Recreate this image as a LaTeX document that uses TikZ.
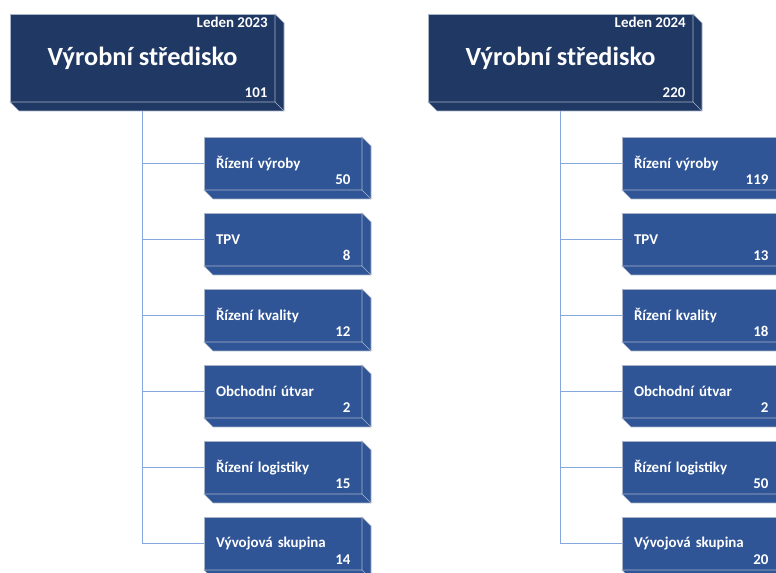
\documentclass[tikz,border=0pt]{standalone}
\usepackage{fontspec}
\setmainfont{Carlito}
\usetikzlibrary{positioning}
\definecolor{navy}{HTML}{1F3864}
\definecolor{deptblue}{HTML}{2F5597}
\definecolor{rim}{HTML}{A9B4C8}
\definecolor{wire}{HTML}{86A6DE}
% extruded right and bottom faces of a box
\newcommand\slab[2]{%
  \filldraw[draw=rim, fill=#2] (#1.north east) -- ++(6.75pt,-6.75pt) |- ([shift={(6.75pt,-6.75pt)}]#1.south west)
    -- (#1.south west) -- (#1.south east) -- cycle;
  \draw[rim] (#1.south east) -- ++(6.75pt,-6.75pt);}
% one department box with its head count
\newcommand\dept[4]{%
  \node[dept, #2] (#1) {#3};
  \node[num] (#1-n) at ([xshift=-8.5pt, yshift=3.75pt]#1.south east) {#4};
  \slab{#1}{deptblue}}
\tikzstyle{head} = [draw=rim, fill=navy, rectangle, outer sep=0pt,
minimum width=198.75pt, minimum height=66pt, text=white, font=\bfseries\fontsize{19.7}{23}\selectfont]
\tikzstyle{dept} = [draw=rim, fill=deptblue, rectangle, outer sep=0pt,
minimum width=118.5pt, minimum height=39.75pt, inner xsep=9pt, text width=100.5pt, align=left,
text=white, font=\bfseries\fontsize{11.2}{13}\selectfont]
\tikzstyle{num} = [anchor=base east, inner sep=0pt, text=white, font=\bfseries\fontsize{11.2}{13}\selectfont]
\tikzstyle{link} = [draw=wire, line width=1.1pt]

\begin{document}
\begin{tikzpicture}[node distance=17.25pt]
    \useasboundingbox (0,0) rectangle (582pt,-429.75pt);
    \clip (0,0) rectangle (582pt,-429.75pt);

    % January 2023
    \node [head] (top23) at (106.875pt,-43.5pt) {Výrobní středisko};
    \node [num] (top23-date) at ([xshift=-5.25pt, yshift=-10.5pt]top23.north east) {Leden 2023};
    \node [num] (top23-n) at ([xshift=-5.5pt, yshift=3.25pt]top23.south east) {101};
    \dept{vyr23}{below=26.25pt of top23, xshift=105.375pt}{Řízení výroby}{50}
    \dept{tpv23}{below=of vyr23}{TPV}{8}
    \dept{kval23}{below=of tpv23}{Řízení kvality}{12}
    \dept{obch23}{below=of kval23}{Obchodní útvar}{2}
    \dept{log23}{below=of obch23}{Řízení logistiky}{15}
    \dept{vyv23}{below=of log23}{Vývojová skupina}{14}

    % January 2024
    \node [head] (top24) at (420.375pt,-43.5pt) {Výrobní středisko};
    \node [num] (top24-date) at ([xshift=-5.25pt, yshift=-10.5pt]top24.north east) {Leden 2024};
    \node [num] (top24-n) at ([xshift=-5.5pt, yshift=3.25pt]top24.south east) {220};
    \dept{vyr24}{below=26.25pt of top24, xshift=105.375pt}{Řízení výroby}{119}
    \dept{tpv24}{below=of vyr24}{TPV}{13}
    \dept{kval24}{below=of tpv24}{Řízení kvality}{18}
    \dept{obch24}{below=of kval24}{Obchodní útvar}{2}
    \dept{log24}{below=of obch24}{Řízení logistiky}{50}
    \dept{vyv24}{below=of log24}{Vývojová skupina}{20}

    % connectors, then the head boxes' sides over their upper ends
    \draw[link] (top23.south) |- (vyr23.west) (top23.south) |- (tpv23.west)
        (top23.south) |- (kval23.west) (top23.south) |- (obch23.west)
        (top23.south) |- (log23.west) (top23.south) |- (vyv23.west);
    \draw[link] (top24.south) |- (vyr24.west) (top24.south) |- (tpv24.west)
        (top24.south) |- (kval24.west) (top24.south) |- (obch24.west)
        (top24.south) |- (log24.west) (top24.south) |- (vyv24.west);
    \slab{top23}{navy}
    \slab{top24}{navy}
\end{tikzpicture}
\end{document}
